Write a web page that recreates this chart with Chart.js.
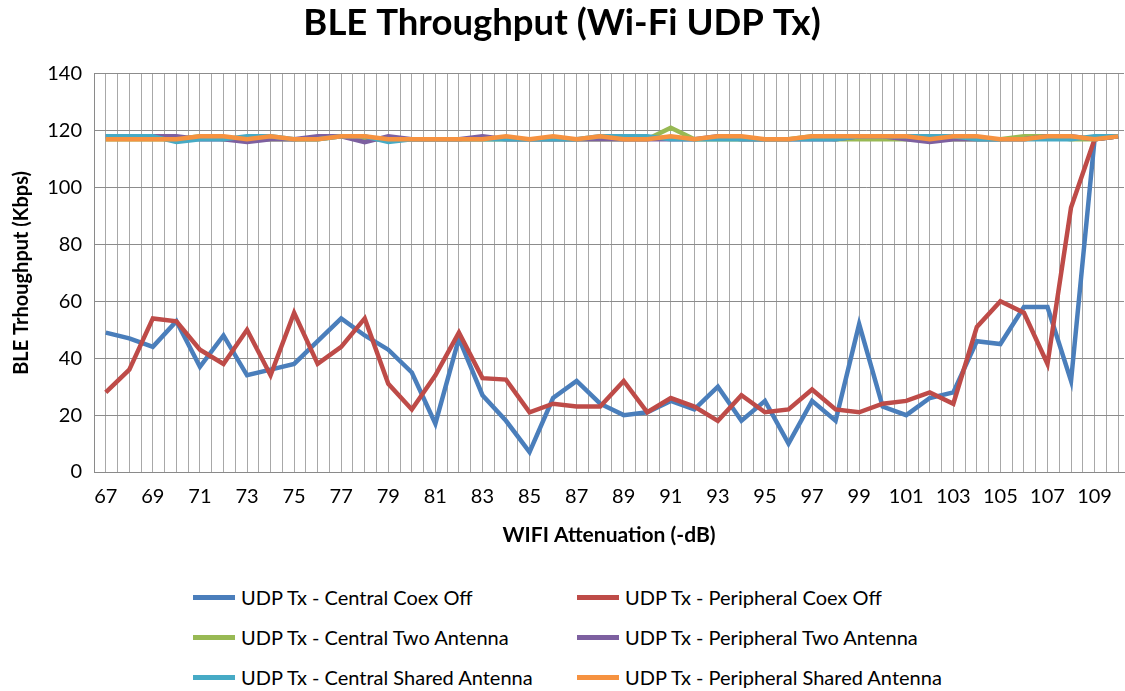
<!DOCTYPE html>
<html>
<head>
<meta charset="utf-8">
<title>BLE Throughput (Wi-Fi UDP Tx)</title>
<script src="https://cdn.jsdelivr.net/npm/chart.js@4.4.0/dist/chart.umd.min.js"></script>
<style>
html, body { margin: 0; padding: 0; background: #fff; overflow: hidden; }
#wrap { position: relative; width: 1125px; height: 691px; }
#bleChart { position: absolute; left: 0; top: 0; }
#legend {
    position: absolute; left: 193px; top: 577px;
    display: grid; grid-template-columns: 384px 384px; grid-auto-rows: 40px;
    font-family: Lato, "Liberation Sans", sans-serif; font-size: 20px; color: #000;
}
#legend .item { display: flex; align-items: center; white-space: nowrap; }
#legend .swatch { width: 42px; height: 5px; margin-right: 6px; }
</style>
</head>
<body>
<div id="wrap">
    <canvas id="bleChart" width="1125" height="560"></canvas>
    <div id="legend"></div>
</div>
<script>
// WIFI attenuation (-dB)
var attenuation = [67, 68, 69, 70, 71, 72, 73, 74, 75, 76, 77, 78, 79, 80, 81, 82, 83, 84, 85, 86, 87, 88,
                   89, 90, 91, 92, 93, 94, 95, 96, 97, 98, 99, 100, 101, 102, 103, 104, 105, 106, 107, 108, 109, 110];

// BLE throughput (Kbps), one value per attenuation step
var centralCoexOff = [49, 47, 44, 53, 37, 48, 34, 36, 38, 46, 54, 48, 43, 35, 17, 47, 27, 18, 7, 26, 32, 24,
                      20, 21, 25, 22, 30, 18, 25, 10, 25, 18, 52, 23, 20, 26, 28, 46, 45, 58, 58, 32, 117, 118];
var peripheralCoexOff = [28, 36, 54, 53, 43, 38, 50, 34, 56, 38, 44, 54, 31, 22, 34, 49, 33, 32.5, 21, 24, 23, 23,
                         32, 21, 26, 23, 18, 27, 21, 22, 29, 22, 21, 24, 25, 28, 24, 51, 60, 56, 38, 93, 117, 118];
var centralTwoAntenna = [117, 117, 117, 117, 118, 117, 117, 117, 117, 117, 118, 117, 117, 117, 117, 117, 117, 117, 117, 117, 117, 117,
                         117, 117, 121, 117, 117, 117, 117, 117, 118, 117, 117, 117, 117, 117, 117, 117, 117, 118, 118, 117, 117, 118];
var peripheralTwoAntenna = [118, 118, 118, 118, 117, 117, 116, 117, 117, 118, 118, 116, 118, 117, 117, 117, 118, 117, 117, 117, 117, 117,
                            117, 117, 117, 117, 118, 117, 117, 117, 117, 117, 118, 118, 117, 116, 117, 117, 117, 117, 118, 118, 117, 118];
var centralSharedAntenna = [118, 118, 118, 116, 117, 117, 118, 118, 117, 117, 118, 118, 116, 117, 117, 117, 117, 117, 117, 117, 117, 118,
                            118, 118, 117, 117, 117, 117, 117, 117, 117, 117, 118, 118, 118, 118, 118, 117, 117, 117, 117, 117, 118, 118];
var peripheralSharedAntenna = [117, 117, 117, 117, 118, 118, 117, 118, 117, 117, 118, 118, 117, 117, 117, 117, 117, 118, 117, 118, 117, 118,
                               117, 117, 118, 117, 118, 118, 117, 117, 118, 118, 118, 118, 118, 117, 118, 118, 117, 117, 118, 118, 117, 118];

var seriesNames = [
    "UDP Tx - Central Coex Off",
    "UDP Tx - Peripheral Coex Off",
    "UDP Tx - Central Two Antenna",
    "UDP Tx - Peripheral Two Antenna",
    "UDP Tx - Central Shared Antenna",
    "UDP Tx - Peripheral Shared Antenna"
];
var seriesValues = [centralCoexOff, peripheralCoexOff, centralTwoAntenna,
                    peripheralTwoAntenna, centralSharedAntenna, peripheralSharedAntenna];
var seriesColors = ["#4A7EBB", "#BE4B48", "#98B954", "#7D60A0", "#46AAC5", "#F69240"];

var fontFamily = "Lato, 'Liberation Sans', sans-serif";

var datasets = seriesNames.map(function (name, i) {
    return {
        label: name,
        data: attenuation.map(function (a, j) { return { x: a, y: seriesValues[i][j] }; }),
        borderColor: seriesColors[i],
        backgroundColor: seriesColors[i],
        borderWidth: 4.5,
        fill: false,
        tension: 0,
        pointRadius: 0,
        order: seriesNames.length - i   // later series drawn on top, like Excel
    };
});

var config = {
    type: 'line',
    data: { datasets: datasets },
    options: {
        responsive: false,
        animation: false,
        layout: { padding: { left: 0, right: 1, top: 0, bottom: 0 } },
        plugins: {
            legend: { display: false },
            tooltip: { enabled: false },
            title: {
                display: true,
                text: "BLE Throughput (Wi-Fi UDP Tx)",
                color: '#000',
                font: { family: fontFamily, size: 36.5, weight: 'bold' },
                padding: { top: 1, bottom: 29 }
            }
        },
        scales: {
            x: {
                type: 'linear',
                min: 66.5,
                max: 110.25,
                bounds: 'data',
                grid: { color: '#a8a8a8', drawTicks: false },
                border: { color: '#8a8a8a' },
                ticks: {
                    stepSize: 0.5,
                    includeBounds: false,
                    autoSkip: false,
                    maxRotation: 0,
                    minRotation: 0,
                    padding: 13,
                    color: '#000',
                    font: { family: fontFamily, size: 20 },
                    callback: function (v) {
                        return (Number.isInteger(v) && v % 2 === 1) ? String(v) : '';
                    }
                },
                title: {
                    display: true,
                    text: "WIFI Attenuation (-dB)",
                    color: '#000',
                    font: { family: fontFamily, size: 21, weight: 'bold' },
                    padding: { top: 0, bottom: 12 }
                },
                afterFit: function (scale) {
                    scale.height = 88;
                    scale.paddingLeft = 0;
                    scale.paddingRight = 0;
                }
            },
            y: {
                min: 0,
                max: 140,
                grid: { color: '#8c8c8c', drawTicks: false },
                border: { color: '#8a8a8a' },
                ticks: {
                    stepSize: 20,
                    padding: 12,
                    color: '#000',
                    font: { family: fontFamily, size: 20 }
                },
                title: {
                    display: true,
                    text: "BLE Trhoughput (Kbps)",
                    color: '#000',
                    font: { family: fontFamily, size: 20, weight: 'bold' },
                    padding: { top: 10, bottom: 0 }
                },
                afterFit: function (scale) { scale.width = 94; }
            }
        }
    }
};

var ctx = document.getElementById("bleChart").getContext("2d");
var chart = new Chart(ctx, config);

// legend in two fixed columns, built from the chart's datasets
var legendBox = document.getElementById("legend");
chart.data.datasets.forEach(function (ds) {
    var item = document.createElement("div");
    item.className = "item";
    var sw = document.createElement("span");
    sw.className = "swatch";
    sw.style.background = ds.borderColor;
    var txt = document.createElement("span");
    txt.textContent = ds.label;
    item.appendChild(sw);
    item.appendChild(txt);
    legendBox.appendChild(item);
});
</script>
</body>
</html>
